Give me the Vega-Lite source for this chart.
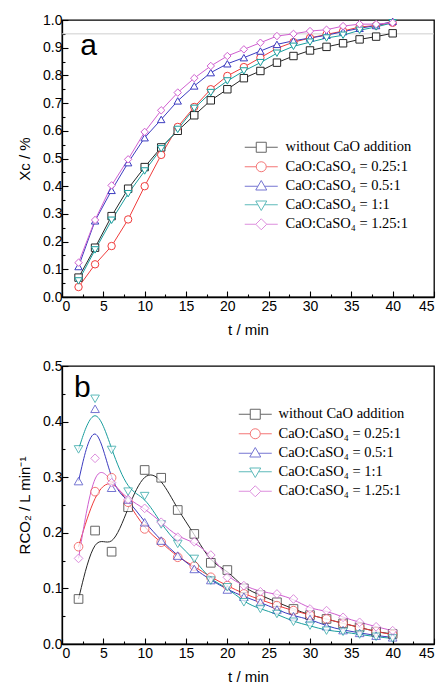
{
  "$schema": "https://vega.github.io/schema/vega-lite/v6.json",
  "padding": {"left": 16, "top": 12, "right": 5, "bottom": 0},
  "spacing": 20,
  "config": {
    "view": {"stroke": "black", "strokeWidth": 1.3},
    "axis": {"domainColor": "black", "domainWidth": 1.3, "tickColor": "black", "tickWidth": 1.1, "labelFont": "Liberation Sans", "labelFontSize": 14, "labelColor": "black", "titleFont": "Liberation Sans", "titleFontSize": 15, "titleFontWeight": "normal", "titleColor": "black", "grid": false, "labelPadding": 6, "titlePadding": 10, "labelOverlap": false},
    "axisX": {"labelPadding": 8, "titlePadding": 6},
    "legend": {"labelFont": "Liberation Serif", "labelFontSize": 14.5, "labelColor": "black", "symbolStrokeWidth": 1, "symbolSize": 100, "symbolFillColor": "white", "rowPadding": 3.5, "labelOffset": 17, "padding": 0}
  },
  "datasets": {
    "xc": [
      {"t": 2, "s0": 0.07, "s1": 0.036, "s2": 0.11, "s3": 0.058, "s4": 0.124},
      {"t": 4, "s0": 0.178, "s1": 0.118, "s2": 0.275, "s3": 0.17, "s4": 0.278},
      {"t": 6, "s0": 0.292, "s1": 0.184, "s2": 0.385, "s3": 0.277, "s4": 0.403},
      {"t": 8, "s0": 0.391, "s1": 0.28, "s2": 0.485, "s3": 0.373, "s4": 0.497},
      {"t": 10, "s0": 0.469, "s1": 0.4, "s2": 0.575, "s3": 0.455, "s4": 0.596},
      {"t": 12, "s0": 0.54, "s1": 0.513, "s2": 0.641, "s3": 0.535, "s4": 0.674},
      {"t": 14, "s0": 0.6, "s1": 0.614, "s2": 0.708, "s3": 0.605, "s4": 0.738},
      {"t": 16, "s0": 0.656, "s1": 0.686, "s2": 0.762, "s3": 0.681, "s4": 0.79},
      {"t": 18, "s0": 0.71, "s1": 0.75, "s2": 0.81, "s3": 0.738, "s4": 0.834},
      {"t": 20, "s0": 0.75, "s1": 0.798, "s2": 0.842, "s3": 0.78, "s4": 0.87},
      {"t": 22, "s0": 0.79, "s1": 0.83, "s2": 0.864, "s3": 0.816, "s4": 0.894},
      {"t": 24, "s0": 0.816, "s1": 0.864, "s2": 0.888, "s3": 0.846, "s4": 0.918},
      {"t": 26, "s0": 0.846, "s1": 0.898, "s2": 0.912, "s3": 0.88, "s4": 0.942},
      {"t": 28, "s0": 0.87, "s1": 0.92, "s2": 0.925, "s3": 0.905, "s4": 0.95},
      {"t": 30, "s0": 0.89, "s1": 0.935, "s2": 0.935, "s3": 0.92, "s4": 0.96},
      {"t": 32, "s0": 0.903, "s1": 0.948, "s2": 0.945, "s3": 0.935, "s4": 0.965},
      {"t": 34, "s0": 0.916, "s1": 0.96, "s2": 0.958, "s3": 0.945, "s4": 0.978},
      {"t": 36, "s0": 0.93, "s1": 0.975, "s2": 0.97, "s3": 0.963, "s4": 0.985},
      {"t": 38, "s0": 0.94, "s1": 0.98, "s2": 0.98, "s3": 0.975, "s4": 0.985},
      {"t": 40, "s0": 0.952, "s1": 0.99, "s2": 0.995, "s3": 0.99, "s4": 0.99}
    ],
    "rate": [
      {"t": 2, "s0": 0.081, "s1": 0.175, "s2": 0.293, "s3": 0.35, "s4": 0.154},
      {"t": 4, "s0": 0.204, "s1": 0.274, "s2": 0.423, "s3": 0.441, "s4": 0.334},
      {"t": 6, "s0": 0.166, "s1": 0.299, "s2": 0.281, "s3": 0.349, "s4": 0.29},
      {"t": 8, "s0": 0.246, "s1": 0.255, "s2": 0.26, "s3": 0.274, "s4": 0.26},
      {"t": 10, "s0": 0.313, "s1": 0.207, "s2": 0.219, "s3": 0.266, "s4": 0.244},
      {"t": 12, "s0": 0.299, "s1": 0.183, "s2": 0.186, "s3": 0.215, "s4": 0.219},
      {"t": 14, "s0": 0.241, "s1": 0.156, "s2": 0.159, "s3": 0.18, "s4": 0.192},
      {"t": 16, "s0": 0.198, "s1": 0.14, "s2": 0.135, "s3": 0.153, "s4": 0.184},
      {"t": 18, "s0": 0.146, "s1": 0.12, "s2": 0.115, "s3": 0.114, "s4": 0.16},
      {"t": 20, "s0": 0.133, "s1": 0.105, "s2": 0.098, "s3": 0.102, "s4": 0.12},
      {"t": 22, "s0": 0.1, "s1": 0.09, "s2": 0.085, "s3": 0.075, "s4": 0.105},
      {"t": 24, "s0": 0.088, "s1": 0.08, "s2": 0.075, "s3": 0.063, "s4": 0.094},
      {"t": 26, "s0": 0.075, "s1": 0.069, "s2": 0.062, "s3": 0.054, "s4": 0.09},
      {"t": 28, "s0": 0.063, "s1": 0.06, "s2": 0.05, "s3": 0.04, "s4": 0.081},
      {"t": 30, "s0": 0.052, "s1": 0.052, "s2": 0.045, "s3": 0.033, "s4": 0.063},
      {"t": 32, "s0": 0.045, "s1": 0.045, "s2": 0.032, "s3": 0.024, "s4": 0.06},
      {"t": 34, "s0": 0.037, "s1": 0.037, "s2": 0.025, "s3": 0.022, "s4": 0.048},
      {"t": 36, "s0": 0.03, "s1": 0.03, "s2": 0.02, "s3": 0.017, "s4": 0.039},
      {"t": 38, "s0": 0.022, "s1": 0.022, "s2": 0.015, "s3": 0.013, "s4": 0.031},
      {"t": 40, "s0": 0.018, "s1": 0.017, "s2": 0.012, "s3": 0.01, "s4": 0.024}
    ],
    "ref": [{"level": 0.95}],
    "tagA": [{"tag": "a"}],
    "tagB": [{"tag": "b"}]
  },
  "vconcat": [
    {
      "width": 372,
      "height": 277,
      "resolve": {"scale": {"stroke": "independent", "shape": "independent"}},
      "layer": [
        {
          "data": {"name": "ref"},
          "mark": {"type": "rule", "color": "#cfcfcf", "strokeWidth": 1},
          "encoding": {"y": {"field": "level", "type": "quantitative", "scale": {"domain": [0, 1]}}}
        },
        {
          "data": {"name": "tagA"},
          "mark": {"type": "text", "font": "Liberation Sans", "fontSize": 30, "align": "left", "baseline": "alphabetic", "color": "black"},
          "encoding": {"x": {"datum": 2.2, "type": "quantitative"}, "y": {"datum": 0.873, "type": "quantitative"}, "text": {"field": "tag"}}
        },
        {
          "data": {"name": "xc"},
          "transform": [{"fold": ["s0", "s1", "s2", "s3", "s4"], "as": ["series", "v"]}],
          "mark": {"type": "line", "strokeWidth": 1, "interpolate": "linear"},
          "encoding": {
            "x": {"field": "t", "type": "quantitative", "scale": {"domain": [0, 45]}, "axis": {"values": [0, 2.5, 5, 7.5, 10, 12.5, 15, 17.5, 20, 22.5, 25, 27.5, 30, 32.5, 35, 37.5, 40, 42.5, 45], "tickCount": 100, "labelOverlap": false, "labelExpr": "datum.value % 5 === 0 ? format(datum.value, 'd') : ''", "tickSize": {"condition": {"test": "datum.value % 5 === 0", "value": -6}, "value": -3}, "title": "t / min"}},
            "y": {"field": "v", "type": "quantitative", "scale": {"domain": [0, 1]}, "axis": {"values": [0, 0.05, 0.1, 0.15, 0.2, 0.25, 0.3, 0.35, 0.4, 0.45, 0.5, 0.55, 0.6, 0.65, 0.7, 0.75, 0.8, 0.85, 0.9, 0.95, 1.0], "tickCount": 100, "labelOverlap": false, "labelExpr": "round(datum.value * 100) % 10 === 0 ? format(datum.value, '.1f') : ''", "tickSize": {"condition": {"test": "round(datum.value * 100) % 10 === 0", "value": -6}, "value": -3}, "title": "Xc / %"}},
            "stroke": {"field": "series", "type": "nominal", "scale": {"domain": ["s0", "s1", "s2", "s3", "s4"], "range": ["#262626", "#f03c3c", "#3c3cc0", "#1a9e9e", "#d060d0"]}, "legend": null},
            "order": {"field": "t", "type": "quantitative"}
          }
        },
        {
          "data": {"name": "xc"},
          "transform": [{"fold": ["s0", "s1", "s2", "s3", "s4"], "as": ["series", "v"]}],
          "mark": {"type": "point", "filled": true, "fill": "white", "strokeWidth": 1, "size": 55, "opacity": 1},
          "encoding": {
            "x": {"field": "t", "type": "quantitative"},
            "y": {"field": "v", "type": "quantitative"},
            "stroke": {"field": "series", "type": "nominal", "scale": {"domain": ["s0", "s1", "s2", "s3", "s4"], "range": ["#262626", "#f03c3c", "#3c3cc0", "#1a9e9e", "#d060d0"]}, "legend": null},
            "shape": {"field": "series", "type": "nominal", "scale": {"domain": ["s0", "s1", "s2", "s3", "s4"], "range": ["square", "circle", "triangle-up", "triangle-down", "diamond"]}, "legend": null}
          }
        },
        {
          "data": {"name": "xc"},
          "transform": [{"fold": ["s0", "s1", "s2", "s3", "s4"], "as": ["series", "v"]}, {"filter": "datum.t < 0"}],
          "mark": {"type": "point", "filled": true, "fill": "white", "strokeWidth": 1, "size": 100},
          "encoding": {
            "x": {"field": "t", "type": "quantitative"},
            "y": {"field": "v", "type": "quantitative"},
            "stroke": {"field": "series", "type": "nominal", "scale": {"domain": ["s0", "s1", "s2", "s3", "s4"], "range": ["#262626", "#f03c3c", "#3c3cc0", "#1a9e9e", "#d060d0"]}, "legend": {"orient": "none", "legendX": 192, "legendY": 120, "title": null, "labelExpr": "{'s0':'without CaO addition','s1':'CaO:CaSO₄ = 0.25:1','s2':'CaO:CaSO₄ = 0.5:1','s3':'CaO:CaSO₄ = 1:1','s4':'CaO:CaSO₄ = 1.25:1'}[datum.value]"}},
            "shape": {"field": "series", "type": "nominal", "scale": {"domain": ["s0", "s1", "s2", "s3", "s4"], "range": ["M-3.3,0H-1M1,0H3.3M-1,-1H1V1H-1Z", "M-3.3,0H-1M1,0H3.3M-1,0A1,1,0,1,1,1,0A1,1,0,1,1,-1,0Z", "M-3.3,0H-0.67M0.67,0H3.3M0,-1.15L1.1,0.75L-1.1,0.75Z", "M-3.3,0H-0.67M0.67,0H3.3M0,1.15L1.1,-0.75L-1.1,-0.75Z", "M-3.3,0H-1.1M1.1,0H3.3M0,-1.1L1.1,0L0,1.1L-1.1,0Z"]}, "legend": {"orient": "none", "legendX": 192, "legendY": 120, "title": null, "labelExpr": "{'s0':'without CaO addition','s1':'CaO:CaSO₄ = 0.25:1','s2':'CaO:CaSO₄ = 0.5:1','s3':'CaO:CaSO₄ = 1:1','s4':'CaO:CaSO₄ = 1.25:1'}[datum.value]"}}
          }
        }
      ]
    },
    {
      "width": 372,
      "height": 278,
      "resolve": {"scale": {"stroke": "independent", "shape": "independent"}},
      "layer": [
        {
          "data": {"name": "tagB"},
          "mark": {"type": "text", "font": "Liberation Sans", "fontSize": 30, "align": "left", "baseline": "alphabetic", "color": "black"},
          "encoding": {"x": {"datum": 1.45, "type": "quantitative"}, "y": {"datum": 0.444, "type": "quantitative"}, "text": {"field": "tag"}}
        },
        {
          "data": {"name": "rate"},
          "transform": [{"fold": ["s0", "s1", "s2", "s3", "s4"], "as": ["series", "v"]}],
          "mark": {"type": "line", "strokeWidth": 1, "interpolate": "basis"},
          "encoding": {
            "x": {"field": "t", "type": "quantitative", "scale": {"domain": [0, 45]}, "axis": {"values": [0, 2.5, 5, 7.5, 10, 12.5, 15, 17.5, 20, 22.5, 25, 27.5, 30, 32.5, 35, 37.5, 40, 42.5, 45], "tickCount": 100, "labelOverlap": false, "labelExpr": "datum.value % 5 === 0 ? format(datum.value, 'd') : ''", "tickSize": {"condition": {"test": "datum.value % 5 === 0", "value": -6}, "value": -3}, "title": "t / min"}},
            "y": {"field": "v", "type": "quantitative", "scale": {"domain": [0, 0.5]}, "axis": {"values": [0, 0.05, 0.1, 0.15, 0.2, 0.25, 0.3, 0.35, 0.4, 0.45, 0.5], "tickCount": 100, "labelOverlap": false, "labelExpr": "round(datum.value * 100) % 10 === 0 ? format(datum.value, '.1f') : ''", "tickSize": {"condition": {"test": "round(datum.value * 100) % 10 === 0", "value": -6}, "value": -3}, "title": "RCO₂ / L min⁻¹"}},
            "stroke": {"field": "series", "type": "nominal", "scale": {"domain": ["s0", "s1", "s2", "s3", "s4"], "range": ["#262626", "#f03c3c", "#3c3cc0", "#1a9e9e", "#d060d0"]}, "legend": null},
            "order": {"field": "t", "type": "quantitative"}
          }
        },
        {
          "data": {"name": "rate"},
          "transform": [{"fold": ["s0", "s1", "s2", "s3", "s4"], "as": ["series", "v"]}],
          "mark": {"type": "point", "filled": true, "fill": "white", "strokeWidth": 1, "size": 75},
          "encoding": {
            "x": {"field": "t", "type": "quantitative"},
            "y": {"field": "v", "type": "quantitative"},
            "stroke": {"field": "series", "type": "nominal", "scale": {"domain": ["s0", "s1", "s2", "s3", "s4"], "range": ["#262626", "#f03c3c", "#3c3cc0", "#1a9e9e", "#d060d0"]}, "legend": null},
            "shape": {"field": "series", "type": "nominal", "scale": {"domain": ["s0", "s1", "s2", "s3", "s4"], "range": ["square", "circle", "triangle-up", "triangle-down", "diamond"]}, "legend": null}
          }
        },
        {
          "data": {"name": "rate"},
          "transform": [{"fold": ["s0", "s1", "s2", "s3", "s4"], "as": ["series", "v"]}, {"filter": "datum.t < 0"}],
          "mark": {"type": "point", "filled": true, "fill": "white", "strokeWidth": 1, "size": 100},
          "encoding": {
            "x": {"field": "t", "type": "quantitative"},
            "y": {"field": "v", "type": "quantitative"},
            "stroke": {"field": "series", "type": "nominal", "scale": {"domain": ["s0", "s1", "s2", "s3", "s4"], "range": ["#262626", "#f03c3c", "#3c3cc0", "#1a9e9e", "#d060d0"]}, "legend": {"orient": "none", "legendX": 186, "legendY": 41, "title": null, "labelOffset": 16, "labelExpr": "{'s0':'without CaO addition','s1':'CaO:CaSO₄ = 0.25:1','s2':'CaO:CaSO₄ = 0.5:1','s3':'CaO:CaSO₄ = 1:1','s4':'CaO:CaSO₄ = 1.25:1'}[datum.value]"}},
            "shape": {"field": "series", "type": "nominal", "scale": {"domain": ["s0", "s1", "s2", "s3", "s4"], "range": ["M-3.3,0H-1M1,0H3.3M-1,-1H1V1H-1Z", "M-3.3,0H-1M1,0H3.3M-1,0A1,1,0,1,1,1,0A1,1,0,1,1,-1,0Z", "M-3.3,0H-0.67M0.67,0H3.3M0,-1.15L1.1,0.75L-1.1,0.75Z", "M-3.3,0H-0.67M0.67,0H3.3M0,1.15L1.1,-0.75L-1.1,-0.75Z", "M-3.3,0H-1.1M1.1,0H3.3M0,-1.1L1.1,0L0,1.1L-1.1,0Z"]}, "legend": {"orient": "none", "legendX": 186, "legendY": 41, "title": null, "labelOffset": 16, "labelExpr": "{'s0':'without CaO addition','s1':'CaO:CaSO₄ = 0.25:1','s2':'CaO:CaSO₄ = 0.5:1','s3':'CaO:CaSO₄ = 1:1','s4':'CaO:CaSO₄ = 1.25:1'}[datum.value]"}}
          }
        }
      ]
    }
  ]
}
